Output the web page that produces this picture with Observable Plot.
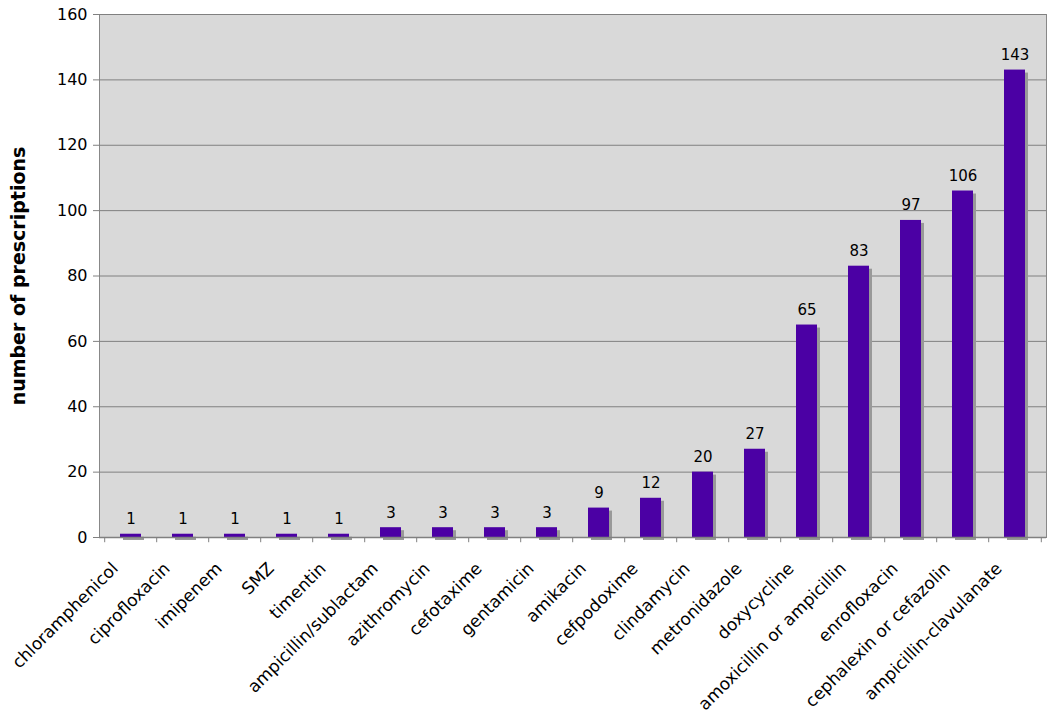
<!DOCTYPE html>
<html><head><meta charset="utf-8">
<script src="https://cdn.jsdelivr.net/npm/d3@7"></script>
<script src="https://cdn.jsdelivr.net/npm/@observablehq/plot@0.6"></script>
<style>body{margin:0;background:#fff}</style>
</head><body><div id="chart"></div>
<script>
const drugs = ["chloramphenicol","ciprofloxacin","imipenem","SMZ","timentin","ampicillin/sublactam","azithromycin","cefotaxime","gentamicin","amikacin","cefpodoxime","clindamycin","metronidazole","doxycycline","amoxicillin or ampicillin","enrofloxacin","cephalexin or cefazolin","ampicillin-clavulanate"];
const counts = [1,1,1,1,1,3,3,3,3,9,12,20,27,65,83,97,106,143];
const yTicks = [0,20,40,60,80,100,120,140,160];
const data = drugs.map((d,i)=>({drug:d, n:counts[i]}));

const W = 1050, H = 722, mL = 99, mR = 4, mT = 14, mB = 185;
const step = (W - mL - mR) / drugs.length;
const font = "DejaVu Sans, Verdana, sans-serif";

const chart = Plot.plot({
  width: W, height: H,
  marginLeft: mL, marginRight: mR, marginTop: mT, marginBottom: mB,
  style: {fontFamily: font, fontSize: "16px", color: "#000", background: "#fff"},
  x: {domain: drugs, paddingInner: 0.6, paddingOuter: 0.3, label: null, axis: null},
  y: {domain: [0,160], ticks: yTicks, label: null},
  marks: [
    Plot.frame({fill: "#d9d9d9", stroke: "#888"}),
    Plot.gridY(yTicks, {stroke: "#808080", strokeOpacity: 1}),
    Plot.barY(data, {x: "drug", y: "n", fill: "#999", dx: 3, dy: 3}),
    Plot.barY(data, {x: "drug", y: "n", fill: "#4b00a4"}),
    Plot.text(data, {x: "drug", y: "n", text: d => String(d.n), dy: -15, fontSize: 15, fill: "#000"}),
    Plot.ruleY([0], {stroke: "#808080", strokeWidth: 1.5}),
    Plot.axisY(yTicks, {tickSize: 6, tickPadding: 6, fontSize: 16, stroke: "#808080", label: null}),
    Plot.ruleX(drugs, {x: d => d, y1: 0, y2: -1.6, dx: -step/2, stroke: "#808080"}),
    Plot.ruleX(drugs.slice(-1), {x: d => d, y1: 0, y2: -1.6, dx: step/2, stroke: "#808080"}),
    Plot.text(["number of prescriptions"], {text: d => d, frameAnchor: "left", textAnchor: "middle", dx: -81, rotate: -90, fontWeight: "bold", fontSize: 19}),
    Plot.text(drugs, {x: d => d, text: d => d, frameAnchor: "bottom", dx: -12, dy: 32, rotate: -45, textAnchor: "end", fontSize: 17})
  ]
});

document.getElementById("chart").appendChild(chart);
</script>
</body></html>
